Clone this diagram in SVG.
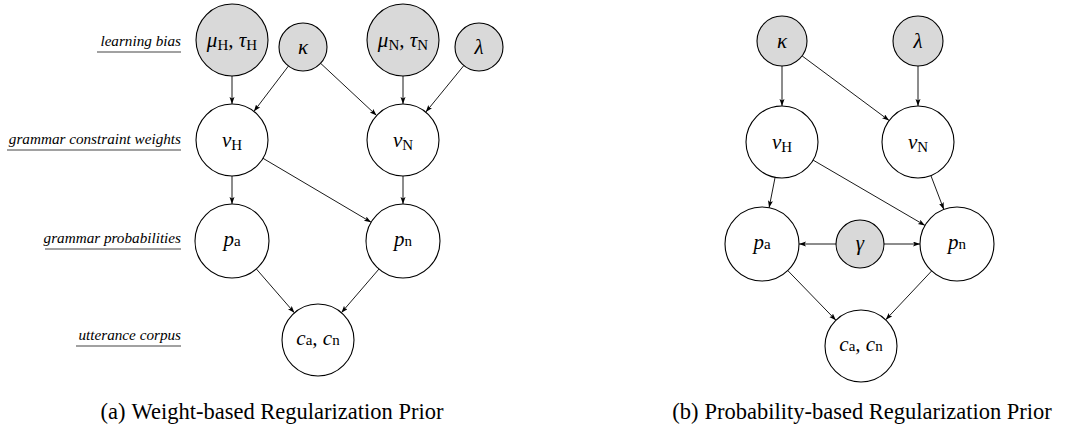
<svg xmlns="http://www.w3.org/2000/svg" width="1082" height="427" viewBox="0 0 1082 427">
<defs>
<marker id="ah" markerUnits="userSpaceOnUse" markerWidth="8" markerHeight="6" refX="7" refY="2.5" orient="auto">
<path d="M0,0 L7,2.5 L0,5 L1.5,2.5 Z" fill="#000"/>
</marker>
</defs>
<style>
.obs{fill:#d9d9d9;stroke:#000;stroke-width:1.1}
.lat{fill:#fff;stroke:#000;stroke-width:1.1}
.e{stroke:#000;stroke-width:0.9;fill:none;marker-end:url(#ah)}
text{font-family:'Liberation Serif','Times New Roman','DejaVu Serif',serif}
.m{font-size:21px;font-style:italic;fill:#000;text-anchor:middle}
.s{font-style:normal;font-size:15px}
.lab{font-size:15.2px;font-style:italic;fill:#000;text-anchor:end}
.ul{stroke:#444;stroke-width:1.2}
.cap{font-size:22.5px;fill:#000;text-anchor:middle}
</style>
<rect width="1082" height="427" fill="#fff"/>

<g id="row-labels">
<text class="lab" x="181" y="46" font-family="Liberation Serif, serif">learning bias</text>
<line class="ul" x1="97" y1="52" x2="181" y2="52"/>
<text class="lab" x="181" y="144" font-family="Liberation Serif, serif">grammar constraint weights</text>
<line class="ul" x1="7" y1="150" x2="181" y2="150"/>
<text class="lab" x="181" y="243" font-family="Liberation Serif, serif">grammar probabilities</text>
<line class="ul" x1="45" y1="249" x2="181" y2="249"/>
<text class="lab" x="181" y="340" font-family="Liberation Serif, serif">utterance corpus</text>
<line class="ul" x1="76" y1="346" x2="181" y2="346"/>
</g>

<g id="connectors">
<line class="e" x1="232" y1="76" x2="232" y2="104"/>
<line class="e" x1="288.4" y1="66.1" x2="253.9" y2="111.4"/>
<line class="e" x1="320.6" y1="63.3" x2="376.6" y2="115.5"/>
<line class="e" x1="403" y1="76" x2="403" y2="104"/>
<line class="e" x1="463.8" y1="65.6" x2="425.8" y2="112.1"/>
<line class="e" x1="232" y1="176" x2="232" y2="204"/>
<line class="e" x1="263" y1="158.3" x2="371.1" y2="222.2"/>
<line class="e" x1="403" y1="176" x2="403" y2="204"/>
<line class="e" x1="256.3" y1="268.9" x2="294.4" y2="312.8"/>
<line class="e" x1="378.9" y1="269.1" x2="341.4" y2="312.7"/>

<line class="e" x1="782" y1="66" x2="782" y2="106"/>
<line class="e" x1="802.1" y1="55.9" x2="889.1" y2="120.5"/>
<line class="e" x1="918" y1="66" x2="918" y2="106"/>
<line class="e" x1="775.1" y1="177.3" x2="769.1" y2="207.7"/>
<line class="e" x1="813.1" y1="160.1" x2="925" y2="225.4"/>
<line class="e" x1="930.9" y1="175.6" x2="943.8" y2="209.4"/>
<line class="e" x1="836" y1="244" x2="799" y2="244"/>
<line class="e" x1="884" y1="244" x2="920" y2="244"/>
<line class="e" x1="787.8" y1="270.6" x2="835.9" y2="320.2"/>
<line class="e" x1="931.7" y1="270.9" x2="885.7" y2="319.8"/>
</g>

<g id="a-muH"><circle class="obs" cx="232" cy="40" r="36"/><text class="m" x="232" y="47" font-family="Liberation Serif, serif">μ<tspan class="s" dy="3">H</tspan><tspan dy="-3">, τ</tspan><tspan class="s" dy="3">H</tspan></text></g>
<g id="a-kappa"><circle class="obs" cx="303" cy="47" r="24"/><text class="m" x="303" y="54" font-family="Liberation Serif, serif">κ</text></g>
<g id="a-muN"><circle class="obs" cx="403" cy="40" r="36"/><text class="m" x="403" y="47" font-family="Liberation Serif, serif">μ<tspan class="s" dy="3">N</tspan><tspan dy="-3">, τ</tspan><tspan class="s" dy="3">N</tspan></text></g>
<g id="a-lambda"><circle class="obs" cx="479" cy="47" r="24"/><text class="m" x="479" y="54" font-family="Liberation Serif, serif">λ</text></g>
<g id="a-vH"><circle class="lat" cx="232" cy="140" r="36"/><text class="m" x="232" y="147" font-family="Liberation Serif, serif">v<tspan class="s" dy="3">H</tspan></text></g>
<g id="a-vN"><circle class="lat" cx="403" cy="140" r="36"/><text class="m" x="403" y="147" font-family="Liberation Serif, serif">v<tspan class="s" dy="3">N</tspan></text></g>
<g id="a-pa"><circle class="lat" cx="232" cy="241" r="37"/><text class="m" x="232" y="246" font-family="Liberation Serif, serif">p<tspan class="s">a</tspan></text></g>
<g id="a-pn"><circle class="lat" cx="403" cy="241" r="37"/><text class="m" x="403" y="246" font-family="Liberation Serif, serif">p<tspan class="s">n</tspan></text></g>
<g id="a-c"><circle class="lat" cx="318" cy="340" r="36"/><text class="m" x="318" y="345" font-family="Liberation Serif, serif">c<tspan class="s">a</tspan><tspan>, c</tspan><tspan class="s">n</tspan></text></g>

<g id="b-kappa"><circle class="obs" cx="782" cy="41" r="25"/><text class="m" x="782" y="48" font-family="Liberation Serif, serif">κ</text></g>
<g id="b-lambda"><circle class="obs" cx="918" cy="41" r="25"/><text class="m" x="918" y="48" font-family="Liberation Serif, serif">λ</text></g>
<g id="b-vH"><circle class="lat" cx="782" cy="142" r="36"/><text class="m" x="782" y="149" font-family="Liberation Serif, serif">v<tspan class="s" dy="3">H</tspan></text></g>
<g id="b-vN"><circle class="lat" cx="918" cy="142" r="36"/><text class="m" x="918" y="149" font-family="Liberation Serif, serif">v<tspan class="s" dy="3">N</tspan></text></g>
<g id="b-pa"><circle class="lat" cx="762" cy="244" r="37"/><text class="m" x="762" y="249" font-family="Liberation Serif, serif">p<tspan class="s">a</tspan></text></g>
<g id="b-gamma"><circle class="obs" cx="860" cy="244" r="24"/><text class="m" x="860" y="250" font-family="Liberation Serif, serif">γ</text></g>
<g id="b-pn"><circle class="lat" cx="957" cy="244" r="37"/><text class="m" x="957" y="249" font-family="Liberation Serif, serif">p<tspan class="s">n</tspan></text></g>
<g id="b-c"><circle class="lat" cx="861" cy="346" r="36"/><text class="m" x="861" y="351" font-family="Liberation Serif, serif">c<tspan class="s">a</tspan><tspan>, c</tspan><tspan class="s">n</tspan></text></g>

<g id="captions">
<text class="cap" x="272" y="419" font-family="Liberation Serif, serif">(a)<tspan dx="6">Weight-based Regularization Prior</tspan></text>
<text class="cap" x="862" y="419" font-family="Liberation Serif, serif">(b)<tspan dx="6">Probability-based Regularization Prior</tspan></text>
</g>
</svg>
